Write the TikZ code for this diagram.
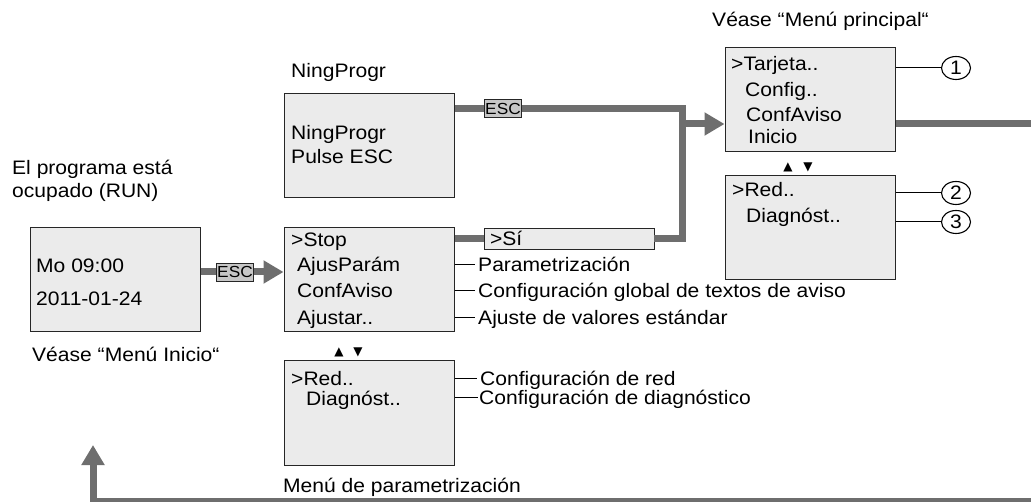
\documentclass[tikz,border=0pt]{standalone}
\usepackage{fontspec}
\setmainfont{Liberation Sans}[FakeStretch=1.08]
\newfontfamily\symfont{DejaVu Sans}
\usetikzlibrary{arrows.meta,shapes.geometric}

\begin{document}
\begin{tikzpicture}[x=1pt, y=-1pt,
  every node/.style={font=\fontsize{19.5}{24}\selectfont},
  screen/.style={draw=black!85, fill=black!8, line width=1pt, minimum width=170pt, minimum height=104pt, inner sep=0pt},
  tag/.style={draw=black!85, fill=black!22, line width=0.8pt, inner sep=0pt, minimum width=37pt, minimum height=18pt, font=\fontsize{16}{16}\selectfont},
  lbl/.style={anchor=base west, inner sep=0pt, text height=15pt, text depth=0pt},
  flow/.style={draw=black!57, line width=7pt},
  tip/.style={-{Triangle[length=20pt,width=22pt]}},
  tick/.style={draw=black, line width=1pt},
  num/.style={draw=black, line width=1.1pt, ellipse, minimum width=29pt, minimum height=23pt, inner sep=0pt},
  arr/.style={font=\symfont\fontsize{12}{12}\selectfont, inner sep=0pt}]
\useasboundingbox (0,0) rectangle (1031,502);

\node[screen] (mo) at (115,280) {};
\node[screen] (ning) at (369,146) {};
\node[screen] (stop) at (369,280) {};
\node[screen] (redp) at (369,413) {};
\node[screen] (main) at (810,100) {};
\node[screen] (red) at (810,228) {};

\node[lbl] (run1) at (12,175) {El programa está};
\node[lbl] (run2) at (12,198) {ocupado (RUN)};
\node[lbl] (mo1) at (36,273) {Mo 09:00};
\node[lbl] (mo2) at (36,306) {2011-01-24};
\node[lbl] (inicio) at (32,362) {Véase “Menú Inicio“};

\node[lbl] (ningt) at (291,78) {NingProgr};
\node[lbl] (ning1) at (291,140) {NingProgr};
\node[lbl] (ning2) at (291,164) {Pulse ESC};

\node[lbl] (stop1) at (291,247) {>Stop};
\node[lbl] (stop2) at (297,272) {AjusParám};
\node[lbl] (stop3) at (297,298) {ConfAviso};
\node[lbl] (stop4) at (297,325) {Ajustar..};
\node[lbl] (lpar) at (478,272) {Parametrización};
\node[lbl] (lavi) at (478,298) {Configuración global de textos de aviso};
\node[lbl] (laju) at (478,325) {Ajuste de valores estándar};

\node[arr] (up1) at (339,352) {▲};
\node[arr] (dn1) at (358,352) {▼};
\node[lbl] (redp1) at (291,386) {>Red..};
\node[lbl] (redp2) at (306,406) {Diagnóst..};
\node[lbl] (lred) at (480,386) {Configuración de red};
\node[lbl] (ldia) at (479,405) {Configuración de diagnóstico};
\node[lbl] (param) at (283,492) {Menú de parametrización};

\node[lbl] (princ) at (712,27) {Véase “Menú principal“};
\node[lbl] (main1) at (731,71) {>Tarjeta..};
\node[lbl] (main2) at (745,97) {Config..};
\node[lbl] (main3) at (746,122) {ConfAviso};
\node[lbl] (main4) at (748,144) {Inicio};
\node[arr] (up2) at (788,167) {▲};
\node[arr] (dn2) at (808,167) {▼};
\node[lbl] (red1) at (732,197) {>Red..};
\node[lbl] (red2) at (746,223) {Diagnóst..};

\node[num] (c1) at (956,68) {1};
\node[num] (c2) at (956,193) {2};
\node[num] (c3) at (956,222) {3};

\node[tag] (esca) at (235,272) {ESC};
\node[tag] (escb) at (503,108.5) {ESC};
\node[draw=black!85, fill=black!8, line width=0.8pt, minimum width=170pt, minimum height=21pt, inner sep=0pt, text height=15pt, text depth=0pt] (si) at (569,238.5) {\makebox[158pt][l]{>Sí}};

\coordinate (jn) at (682,124);
\coordinate (outr) at (1031,124);
\coordinate (retr) at (1031,501);
\coordinate (back) at (93,445);

\draw[flow] (mo.east |- esca.west) -- (esca.west);
\draw[flow, tip] (esca.east) -- (stop.west |- esca.east);
\draw[flow] (ning.east |- escb.west) -- (escb.west);
\draw[flow] (escb.east) -| (jn) -- (jn |- si.east) -- (si.east);
\draw[flow] (stop.east |- si.west) -- (si.west);
\draw[flow, tip] (jn) -- (main.west |- jn);
\draw[flow] (main.east |- jn) -- (outr);
\draw[flow, tip] (retr) -| (back);

\draw[tick, shorten >=3pt] (stop.east |- lpar.west) -- (lpar.west);
\draw[tick, shorten >=3pt] (stop.east |- lavi.west) -- (lavi.west);
\draw[tick, shorten >=3pt] (stop.east |- laju.west) -- (laju.west);
\draw[tick, shorten >=3pt] (redp.east |- lred.west) -- (lred.west);
\draw[tick, shorten >=1pt] (redp.east |- ldia.west) -- (ldia.west);
\draw[tick] (main.east |- c1) -- (c1);
\draw[tick] (red.east |- c2) -- (c2);
\draw[tick] (red.east |- c3) -- (c3);
\end{tikzpicture}
\end{document}
